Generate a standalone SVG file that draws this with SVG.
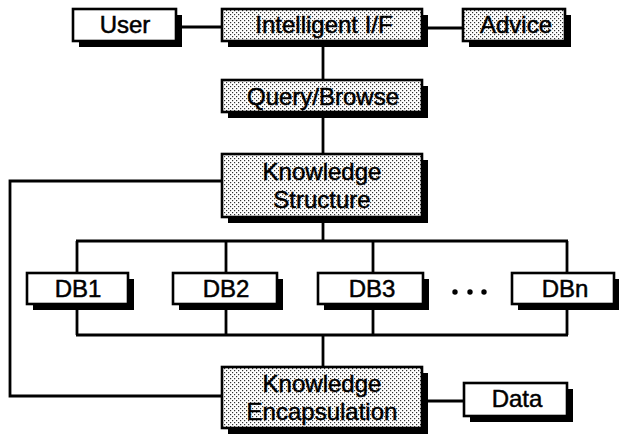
<svg xmlns="http://www.w3.org/2000/svg" width="619" height="435" viewBox="0 0 619 435">
<style>
.box{stroke:#000;stroke-width:2.6}
.plain{fill:#fff}
.shaded{fill:url(#dots)}
.shadow{fill:#000}
.lbl{font-family:"Liberation Sans",Arial,Helvetica,sans-serif;font-size:24px;fill:#000;stroke:#000;stroke-width:0.5;text-anchor:middle}
.conn{fill:none;stroke:#000;stroke-width:2.8}
</style>
<defs>
<pattern id="dots" width="4" height="4" patternUnits="userSpaceOnUse">
<rect width="4" height="4" fill="#fff"/>
<rect x="0" y="0" width="1.2" height="1.2" fill="#333"/>
<rect x="2" y="2" width="1.2" height="1.2" fill="#333"/>
</pattern>
</defs>
<rect width="619" height="435" fill="#fff"/>
<g id="connectors">
<line class="conn" x1="177" y1="27" x2="222" y2="27"/>
<line class="conn" x1="423" y1="28" x2="463" y2="28"/>
<line class="conn" x1="323" y1="41" x2="323" y2="80"/>
<line class="conn" x1="323" y1="112" x2="323" y2="154"/>
<line class="conn" x1="323" y1="217" x2="323" y2="241"/>
<polyline class="conn" points="222,181 10,181 10,396 222,396"/>
<line class="conn" x1="76" y1="241" x2="568" y2="241"/>
<line class="conn" x1="77" y1="241" x2="77" y2="273"/>
<line class="conn" x1="226" y1="241" x2="226" y2="273"/>
<line class="conn" x1="373" y1="241" x2="373" y2="273"/>
<line class="conn" x1="567" y1="241" x2="567" y2="273"/>
<line class="conn" x1="77" y1="304" x2="77" y2="335"/>
<line class="conn" x1="226" y1="304" x2="226" y2="335"/>
<line class="conn" x1="373" y1="304" x2="373" y2="335"/>
<line class="conn" x1="567" y1="304" x2="567" y2="335"/>
<line class="conn" x1="76" y1="335" x2="568" y2="335"/>
<line class="conn" x1="323" y1="335" x2="323" y2="367"/>
<line class="conn" x1="423" y1="401" x2="464" y2="401"/>
</g>
<g id="user">
<rect class="shadow" x="79" y="15" width="103" height="32"/>
<rect class="box plain" x="73" y="9" width="103" height="32"/>
<text class="lbl" x="125" y="33">User</text>
</g>
<g id="intelligent-if">
<rect class="shadow" x="228" y="15" width="200" height="32"/>
<rect class="box shaded" x="222" y="9" width="200" height="32"/>
<text class="lbl" x="324" y="33">Intelligent I/F</text>
</g>
<g id="advice">
<rect class="shadow" x="469" y="15" width="102" height="32"/>
<rect class="box shaded" x="463" y="9" width="102" height="32"/>
<text class="lbl" x="516" y="33">Advice</text>
</g>
<g id="query-browse">
<rect class="shadow" x="228" y="86" width="200" height="32"/>
<rect class="box shaded" x="222" y="80" width="200" height="32"/>
<text class="lbl" x="323" y="105">Query/Browse</text>
</g>
<g id="knowledge-structure">
<rect class="shadow" x="228" y="160" width="200" height="63"/>
<rect class="box shaded" x="222" y="154" width="200" height="63"/>
<text class="lbl" x="322" y="180">Knowledge</text>
<text class="lbl" x="322" y="208">Structure</text>
</g>
<g id="db1">
<rect class="shadow" x="33" y="279" width="101" height="31"/>
<rect class="box plain" x="27" y="273" width="101" height="31"/>
<text class="lbl" x="78" y="297">DB1</text>
</g>
<g id="db2">
<rect class="shadow" x="179" y="279" width="104" height="31"/>
<rect class="box plain" x="173" y="273" width="104" height="31"/>
<text class="lbl" x="226" y="297">DB2</text>
</g>
<g id="db3">
<rect class="shadow" x="324" y="279" width="105" height="31"/>
<rect class="box plain" x="318" y="273" width="105" height="31"/>
<text class="lbl" x="372" y="297">DB3</text>
</g>
<g id="ellipsis">
<circle cx="455" cy="292" r="2.7" fill="#000"/>
<circle cx="470" cy="292" r="2.7" fill="#000"/>
<circle cx="484" cy="292" r="2.7" fill="#000"/>
</g>
<g id="dbn">
<rect class="shadow" x="518" y="279" width="102" height="31"/>
<rect class="box plain" x="512" y="273" width="102" height="31"/>
<text class="lbl" x="565" y="297">DBn</text>
</g>
<g id="knowledge-encapsulation">
<rect class="shadow" x="228" y="373" width="200" height="61"/>
<rect class="box shaded" x="222" y="367" width="200" height="61"/>
<text class="lbl" x="322" y="392">Knowledge</text>
<text class="lbl" x="322" y="420">Encapsulation</text>
</g>
<g id="data">
<rect class="shadow" x="470" y="389" width="103" height="33"/>
<rect class="box plain" x="464" y="383" width="103" height="33"/>
<text class="lbl" x="517" y="407">Data</text>
</g>
</svg>
